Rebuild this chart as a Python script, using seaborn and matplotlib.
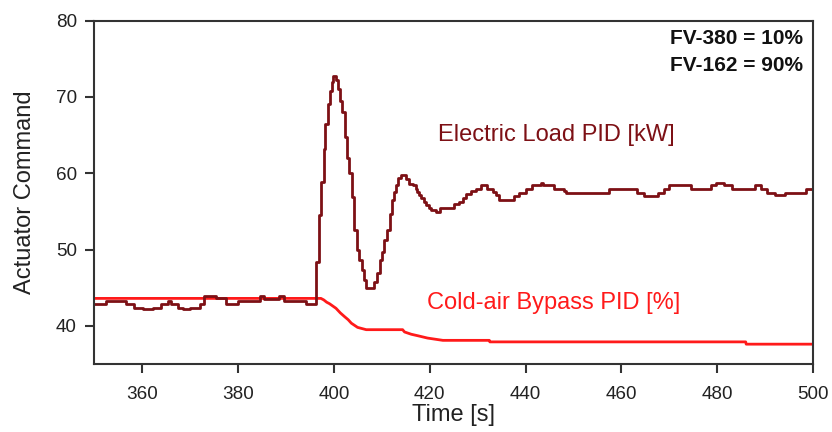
import matplotlib
matplotlib.use("Agg")
import matplotlib.pyplot as plt
import seaborn as sns
import pandas as pd

# Electric load PID output [kW] (sampled, held between updates)
load_time = [350.0, 352.5, 356.7, 358.2, 360.2, 362.2, 364.0, 365.4, 366.1, 367.5,
             368.5, 370.0, 372.0, 373.0, 375.4, 377.5, 380.0, 384.5, 385.5, 388.6,
             389.7, 394.2, 396.35, 396.85, 397.35, 397.85, 398.25, 398.75, 399.25, 399.55,
             399.75, 400.45, 400.85, 401.35, 401.75, 402.25, 402.75, 403.25, 403.75, 404.15,
             404.75, 405.35, 405.85, 406.25, 406.75, 408.45, 408.95, 409.55, 409.95, 410.55,
             411.05, 411.65, 412.05, 412.45, 412.95, 413.45, 414.05, 415.05, 415.75, 416.45,
             417.15, 417.45, 417.85, 418.15, 418.85, 419.25, 419.95, 420.25, 421.35, 422.05,
             422.75, 425.15, 426.15, 426.85, 427.55, 428.65, 429.65, 430.65, 432.05, 433.15,
             433.85, 434.55, 437.65, 438.65, 440.05, 441.45, 443.15, 443.55, 445.95, 448.05,
             448.45, 457.45, 463.35, 464.75, 467.55, 468.85, 469.95, 474.45, 478.65, 479.65,
             481.35, 483.15, 487.95, 489.05, 490.45, 492.15, 494.25, 498.45, 500.0]
load_value = [42.9, 43.3, 42.9, 42.4, 42.2, 42.4, 42.9, 43.3, 42.9, 42.4,
              42.2, 42.4, 42.9, 43.9, 43.6, 42.9, 43.3, 43.9, 43.5, 43.9,
              43.3, 42.9, 48.4, 54.5, 58.9, 63.2, 66.5, 69.1, 70.8, 71.9,
              72.8, 72.2, 71.1, 69.5, 68.0, 64.7, 62.0, 60.0, 56.9, 52.5,
              49.9, 48.6, 47.3, 46.0, 44.9, 45.8, 46.9, 48.6, 49.7, 51.2,
              52.6, 54.7, 56.5, 57.6, 58.5, 59.35, 59.8, 59.2, 58.6, 58.4,
              58.0, 57.5, 57.1, 56.8, 56.3, 55.9, 55.4, 55.2, 54.9, 55.4,
              55.4, 56.0, 56.3, 56.8, 57.3, 57.7, 58.0, 58.5, 58.0, 57.5,
              57.1, 56.5, 57.0, 57.4, 58.0, 58.5, 58.7, 58.5, 58.0, 57.7,
              57.4, 58.0, 57.4, 57.0, 57.4, 58.0, 58.5, 58.0, 58.5, 58.7,
              58.5, 58.0, 58.5, 58.0, 57.4, 57.1, 57.4, 58.0, 58.0]

# Cold-air bypass PID output [%]
bypass_time = [350.0, 397.3, 397.9, 398.5, 399.1, 400.45, 401.35, 402.25, 403.0, 403.65,
               404.95, 406.75, 414.35, 414.75, 416.15, 417.55, 419.55, 422.75, 432.45, 432.55,
               485.95, 486.05, 500.0]
bypass_value = [43.6, 43.6, 43.4, 43.1, 42.9, 42.3, 41.7, 41.2, 40.8, 40.35,
                39.8, 39.5, 39.5, 39.2, 38.9, 38.7, 38.4, 38.1, 38.1, 37.9,
                37.9, 37.6, 37.6]

x_ticks = [360, 380, 400, 420, 440, 460, 480, 500]
y_ticks = [40, 50, 60, 70, 80]

load_df = pd.DataFrame({"t": load_time, "v": load_value})
bypass_df = pd.DataFrame({"t": bypass_time, "v": bypass_value})

sns.set_theme(style="ticks")
plt.rcParams["font.family"] = ["Liberation Sans", "DejaVu Sans"]

DARK = "#7d1015"
RED = "#ff1a1a"
AX = "#333333"

fig = plt.figure(figsize=(8.32, 4.32), dpi=100)
ax = fig.add_axes([0.1133, 0.1574, 0.9772 - 0.1133, 0.9521 - 0.1574])

sns.lineplot(data=bypass_df, x="t", y="v", ax=ax, color=RED, lw=2.0,
             estimator=None, sort=False)
sns.lineplot(data=load_df, x="t", y="v", ax=ax, color=DARK, lw=2.0,
             estimator=None, sort=False, drawstyle="steps-post")

ax.set_xlim(350, 500)
ax.set_ylim(35, 80)
ax.set_xticks(x_ticks)
ax.set_yticks(y_ticks)
ax.set_xlabel("Time [s]", fontsize=17, color="#222222", labelpad=1)
ax.set_ylabel("Actuator Command", fontsize=17, color="#222222", labelpad=14)

for side in ["left", "bottom", "right", "top"]:
    ax.spines[side].set_visible(True)
    ax.spines[side].set_color(AX)
    ax.spines[side].set_linewidth(1.5)
ax.tick_params(axis="both", which="major", direction="out", length=6.5,
               width=1.5, color=AX, labelsize=13.6, labelcolor="#222222")
ax.tick_params(axis="x", pad=9)
ax.tick_params(axis="y", pad=6)
ax.tick_params(top=False, right=False)

ax.text(421.7, 65.0, "Electric Load PID [kW]", color=DARK, fontsize=17,
        ha="left", va="center")
ax.text(419.5, 42.95, "Cold-air Bypass PID [%]", color=RED, fontsize=17,
        ha="left", va="center")
ax.text(0.9865, 0.9467, "FV-380 = 10%", transform=ax.transAxes, fontsize=15,
        fontweight="bold", ha="right", va="center", color="#111111")
ax.text(0.9865, 0.869, "FV-162 = 90%", transform=ax.transAxes, fontsize=15,
        fontweight="bold", ha="right", va="center", color="#111111")

fig.savefig("out.png", dpi=100)
